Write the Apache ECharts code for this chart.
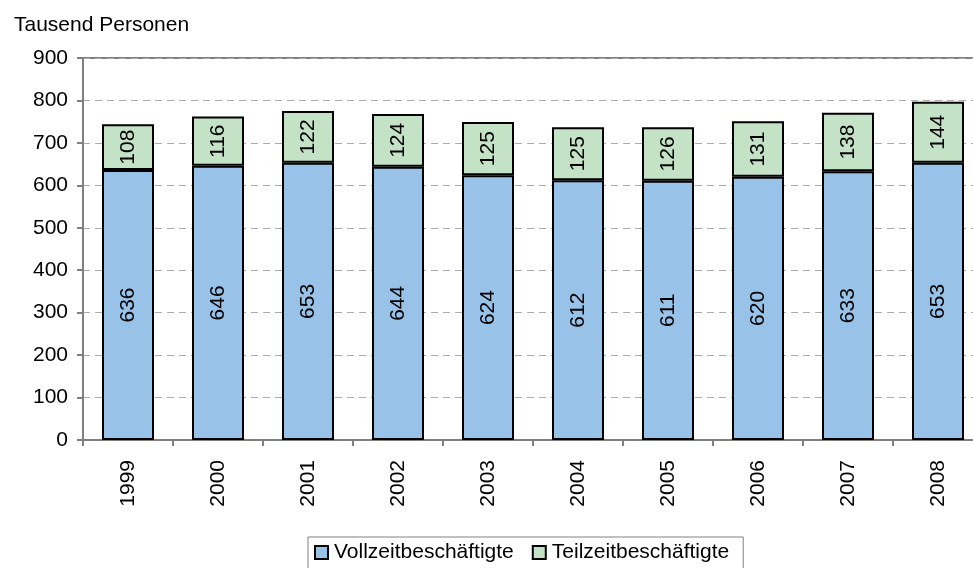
<!DOCTYPE html>
<html>
<head>
<meta charset="utf-8">
<script src="https://cdn.jsdelivr.net/npm/echarts@6/dist/echarts.min.js"></script>
<style>
html,body{margin:0;padding:0;background:#fff;overflow:hidden;}
#chart{width:990px;height:568px;}
</style>
</head>
<body>
<div id="chart"></div>
<script>
// Jahre und Werte (Tausend Personen)
var jahre = ['1999', '2000', '2001', '2002', '2003', '2004', '2005', '2006', '2007', '2008'];
var vollzeit = [636, 646, 653, 644, 624, 612, 611, 620, 633, 653];
var teilzeit = [108, 116, 122, 124, 125, 125, 126, 131, 138, 144];

var chart = echarts.init(document.getElementById('chart'));

var fontFam = 'Liberation Sans, Arial, sans-serif';

var labelCfg = {
    show: true,
    position: 'inside',
    rotate: 90,
    color: '#000',
    fontSize: 21,
    fontFamily: fontFam
};

var option = {
    animation: false,
    backgroundColor: '#fff',
    title: {
        text: 'Tausend Personen',
        left: 9,
        top: 10,
        textStyle: {fontSize: 21, fontWeight: 'normal', color: '#000', fontFamily: fontFam}
    },
    // Zeichenfläche reicht rechts etwas über den sichtbaren Rand hinaus
    grid: {
        left: 83,
        right: 7,
        top: 58,
        bottom: 128,
        show: true,
        borderColor: '#808080',
        borderWidth: 2
    },
    legend: {
        left: 308,
        top: 537,
        icon: 'rect',
        itemWidth: 13,
        itemHeight: 13,
        itemGap: 18,
        padding: [5, 14, 8, 6],
        borderColor: '#808080',
        borderWidth: 1,
        textStyle: {fontSize: 21, color: '#000', fontFamily: fontFam, padding: [0, 0, 0, 1]},
        data: [
            {name: 'Vollzeitbeschäftigte', itemStyle: {borderColor: '#000', borderWidth: 2}},
            {name: 'Teilzeitbeschäftigte', itemStyle: {borderColor: '#000', borderWidth: 2}}
        ]
    },
    xAxis: {
        type: 'category',
        data: jahre,
        axisLine: {lineStyle: {color: '#808080', width: 2}},
        axisTick: {show: true, length: 6, lineStyle: {color: '#808080', width: 2}},
        axisLabel: {rotate: 90, color: '#000', fontSize: 21, fontFamily: fontFam, margin: 20}
    },
    yAxis: {
        type: 'value',
        min: 0,
        max: 900,
        interval: 100,
        axisLine: {show: true, lineStyle: {color: '#808080', width: 2}},
        axisTick: {show: true, length: 6, lineStyle: {color: '#808080', width: 2}},
        axisLabel: {color: '#000', fontSize: 21, fontFamily: fontFam, margin: 15},
        splitLine: {lineStyle: {color: '#aaaaaa', type: [7, 5], width: 1}}
    },
    series: [
        {
            name: 'Vollzeitbeschäftigte',
            type: 'bar',
            stack: 'all',
            barWidth: 52,
            data: vollzeit,
            itemStyle: {color: '#99C2E8', borderColor: '#000', borderWidth: 2},
            label: labelCfg
        },
        {
            name: 'Teilzeitbeschäftigte',
            type: 'bar',
            stack: 'all',
            barWidth: 52,
            data: teilzeit,
            itemStyle: {color: '#C4E2C6', borderColor: '#000', borderWidth: 2},
            label: labelCfg
        }
    ]
};

chart.setOption(option);
</script>
</body>
</html>
